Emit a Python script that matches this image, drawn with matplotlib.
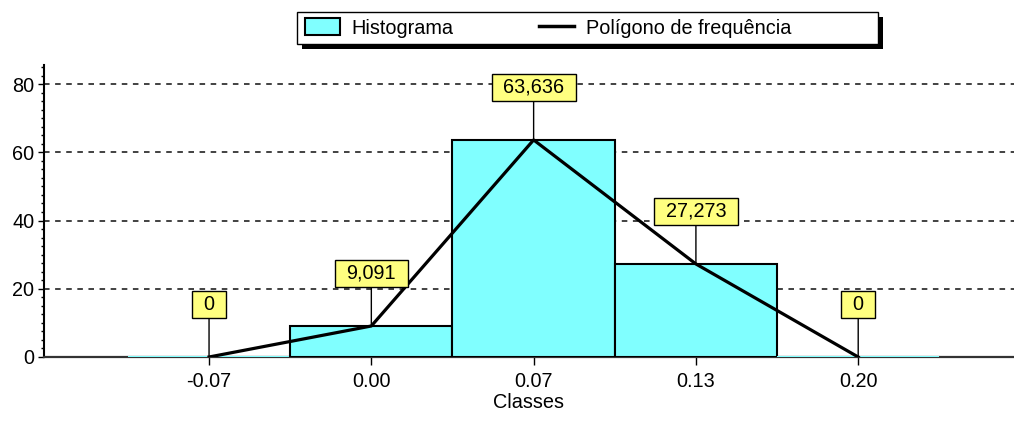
import matplotlib
matplotlib.use("Agg")
import matplotlib.pyplot as plt
from matplotlib.patches import Rectangle, Patch
from matplotlib.lines import Line2D
from matplotlib.path import Path
from matplotlib.ticker import MultipleLocator

plt.rcParams["font.family"] = ["Liberation Sans", "DejaVu Sans"]
plt.rcParams["lines.scale_dashes"] = False

classes = ["-0.07", "0.00", "0.07", "0.13", "0.20"]
freq = [0, 9.091, 63.636, 27.273, 0]
labels = ["0", "9,091", "63,636", "27,273", "0"]

CYAN, YEL = "#80ffff", "#ffff80"
FS = 14.3


def wide_box(x0, y0, width, height, mutation_size):
    # label box: more padding left/right than top/bottom
    px, py = 0.58 * mutation_size, 0.2 * mutation_size
    x1, y1 = x0 + width + px, y0 + height + py
    x0, y0 = x0 - px, y0 - py
    return Path([(x0, y0), (x1, y0), (x1, y1), (x0, y1), (x0, y0)],
                closed=True)


fig = plt.figure(figsize=(10.14, 4.22), dpi=100)
ax = fig.add_axes([44 / 1014, 65 / 422, 970 / 1014, 292 / 422])
x = list(range(len(classes)))

edges = [CYAN if v == 0 else "black" for v in freq]
ax.bar(x, freq, width=1.0, color=CYAN, edgecolor=edges, linewidth=1.5,
       zorder=3)
ax.plot(x, freq, color="black", lw=2.3, zorder=4)

for xi, v, lab in zip(x, freq, labels):
    ax.annotate(lab, (xi, v), xytext=(0, 38), textcoords="offset points",
                ha="center", va="center", fontsize=FS, zorder=5,
                bbox=dict(boxstyle=wide_box, fc=YEL, ec="black", lw=1),
                arrowprops=dict(arrowstyle="-", color="black", lw=1,
                                shrinkA=0, shrinkB=0))

for g in [20, 40, 60, 80]:
    ax.axhline(g, color="#333333", lw=1.3, ls=(0, (4, 4)), zorder=1)

ax.set_xlim(-1.017, 4.96)
ax.set_ylim(0, 85.6)
ax.set_xticks(x)
ax.set_xticklabels(classes)
ax.yaxis.set_major_locator(MultipleLocator(20))
ax.yaxis.set_minor_locator(MultipleLocator(2.5))
ax.tick_params(axis="x", length=6, width=1, pad=5, labelsize=FS)
ax.tick_params(axis="y", which="major", length=4, width=1, pad=3,
               labelsize=FS)
ax.tick_params(axis="y", which="minor", length=2, width=1)
ax.set_xlabel("Classes", fontsize=FS, labelpad=1)
for s in ["top", "right"]:
    ax.spines[s].set_visible(False)
ax.spines["left"].set_linewidth(1.5)
ax.spines["bottom"].set_linewidth(1.6)
ax.spines["bottom"].set_color("#333333")

# legend box with solid shadow
fig.patches.append(Rectangle((302 / 1014, (422 - 49) / 422), 581 / 1014,
                             32 / 422, transform=fig.transFigure,
                             fc="black", ec="none", zorder=1))
fig.patches.append(Rectangle((297 / 1014, (422 - 44) / 422), 581 / 1014,
                             32 / 422, transform=fig.transFigure,
                             fc="white", ec="black", lw=1, zorder=2))
handles = [Patch(fc=CYAN, ec="black", lw=1.5),
           Line2D([], [], color="black", lw=2.5)]
fig.legend(handles, ["Histograma", "Polígono de frequência"],
           loc="center left", bbox_to_anchor=(305 / 1014, (422 - 28) / 422),
           ncol=2, frameon=False, fontsize=FS, borderpad=0,
           borderaxespad=0, handlelength=1.75, handletextpad=0.6,
           columnspacing=4.3, handleheight=0.9)

fig.savefig("out.png", dpi=100)
